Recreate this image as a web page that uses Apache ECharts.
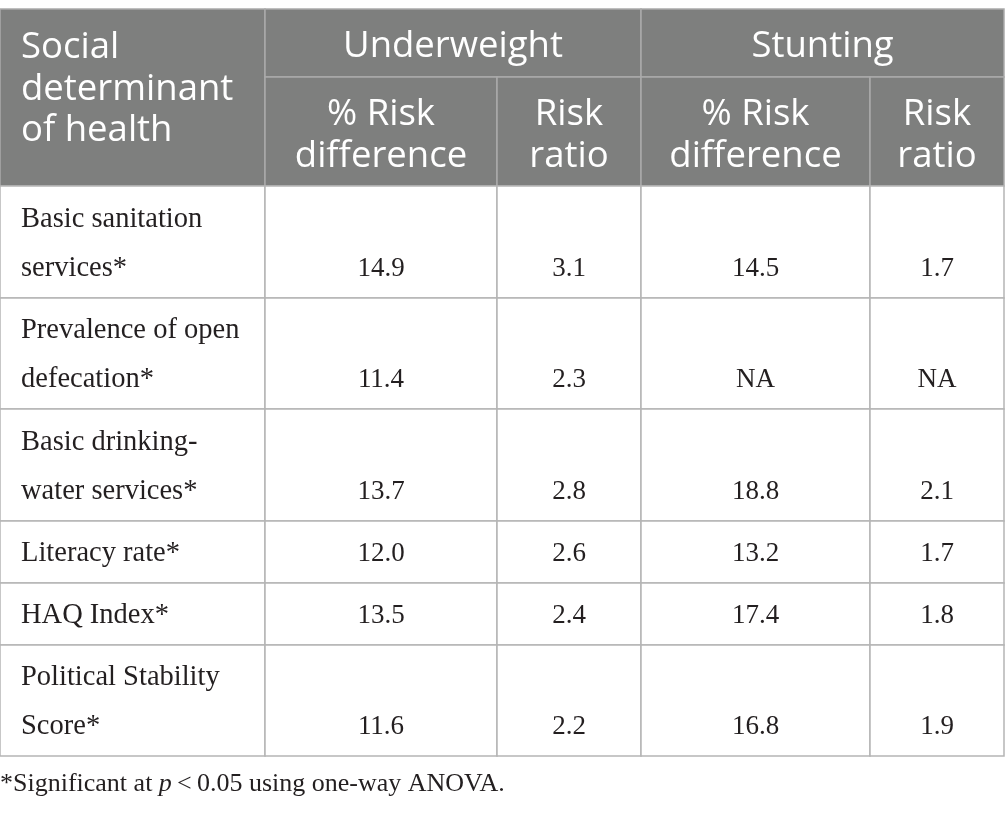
<!DOCTYPE html>
<html>
<head>
<meta charset="utf-8">
<script src="https://cdn.jsdelivr.net/npm/echarts@6/dist/echarts.min.js"></script>
<style>
  html, body { margin: 0; padding: 0; background: #fff; }
  #main { width: 1005px; height: 815px; }
</style>
</head>
<body>
<div id="main"></div>
<script>
// table content
const cornerHeader = 'Social\ndeterminant\nof health';
const groupHeaders = ['Underweight', 'Stunting'];
const subHeaders = ['% Risk\ndifference', 'Risk\nratio', '% Risk\ndifference', 'Risk\nratio'];
const determinants = [
  'Basic sanitation\nservices*',
  'Prevalence of open\ndefecation*',
  'Basic drinking-\nwater services*',
  'Literacy rate*',
  'HAQ Index*',
  'Political Stability\nScore*'
];
const underweightDiff = ['14.9', '11.4', '13.7', '12.0', '13.5', '11.6'];
const underweightRatio = ['3.1', '2.3', '2.8', '2.6', '2.4', '2.2'];
const stuntingDiff = ['14.5', 'NA', '18.8', '13.2', '17.4', '16.8'];
const stuntingRatio = ['1.7', 'NA', '2.1', '1.7', '1.8', '1.9'];
const valueColumns = [underweightDiff, underweightRatio, stuntingDiff, stuntingRatio];

// layout, in pixels of the page
const colEdges = [0, 265, 497, 641, 870, 1004];
const headTop = 9, headMid = 77, headBottom = 186;
const rowEdges = [186, 298, 409, 521, 583, 645, 756];

const headFont = '36.5px "Open Sans"';
const labelFont = '28.5px "Liberation Serif"';
const valueFont = '27px "Liberation Serif"';
const headLine = 41.5;
const bodyLine = 49;

// build cells: value = [x0, y0, x1, y1]
let cells = [];
cells.push({ value: [colEdges[0], headTop, colEdges[1], headBottom], text: cornerHeader, kind: 'corner' });
for (let g = 0; g < groupHeaders.length; g++) {
  cells.push({ value: [colEdges[1 + g * 2], headTop, colEdges[3 + g * 2], headMid], text: groupHeaders[g], kind: 'head' });
}
for (let s = 0; s < subHeaders.length; s++) {
  cells.push({ value: [colEdges[1 + s], headMid, colEdges[2 + s], headBottom], text: subHeaders[s], kind: 'head' });
}
for (let r = 0; r < determinants.length; r++) {
  let nLines = determinants[r].split('\n').length;
  cells.push({ value: [colEdges[0], rowEdges[r], colEdges[1], rowEdges[r + 1]], text: determinants[r], kind: 'label' });
  for (let c = 0; c < valueColumns.length; c++) {
    cells.push({ value: [colEdges[1 + c], rowEdges[r], colEdges[2 + c], rowEdges[r + 1]], text: valueColumns[c][r], kind: 'value', lines: nLines });
  }
}

function renderCell(params, api) {
  const cell = cells[params.dataIndex];
  const p0 = api.coord([api.value(0), api.value(1)]);
  const p1 = api.coord([api.value(2), api.value(3)]);
  const isHead = cell.kind === 'corner' || cell.kind === 'head';
  const w = p1[0] - p0[0], h = p1[1] - p0[1];
  let textStyle;
  if (cell.kind === 'corner') {
    textStyle = { x: p0[0] + 21, y: p0[1] + 18, align: 'left', verticalAlign: 'top', lineHeight: headLine, font: headFont };
  } else if (cell.kind === 'head') {
    textStyle = { x: p0[0] + w / 2, y: p0[1] + h / 2 + 4, align: 'center', verticalAlign: 'middle', lineHeight: headLine, font: headFont };
  } else if (cell.kind === 'label') {
    textStyle = { x: p0[0] + 21, y: p0[1] + h / 2 + 2, align: 'left', verticalAlign: 'middle', lineHeight: bodyLine, font: labelFont };
  } else {
    textStyle = { x: p0[0] + w / 2, y: p0[1] + h / 2 + 2 + (cell.lines - 1) * bodyLine / 2, align: 'center', verticalAlign: 'middle', lineHeight: bodyLine, font: valueFont };
  }
  textStyle.text = cell.text;
  textStyle.fill = isHead ? '#ffffff' : '#231f20';
  return {
    type: 'group',
    children: [
      {
        type: 'rect',
        shape: { x: p0[0], y: p0[1], width: w, height: h },
        style: { fill: isHead ? '#7e7f7e' : '#ffffff', stroke: isHead ? '#aaaaaa' : '#b5b5b5', lineWidth: 1.5 }
      },
      { type: 'text', style: textStyle }
    ]
  };
}

const chart = echarts.init(document.getElementById('main'));
chart.setOption({
  animation: false,
  grid: { left: 0, right: 0, top: 0, bottom: 0 },
  xAxis: { type: 'value', min: 0, max: 1005, show: false },
  yAxis: { type: 'value', min: 0, max: 815, inverse: true, show: false },
  series: [{
    type: 'custom',
    clip: false,
    renderItem: renderCell,
    data: cells
  }],
  graphic: [{
    type: 'text',
    left: 0,
    top: 771,
    style: {
      text: '*Significant at {i|p}\u2009<\u20090.05 using one-way ANOVA.',
      font: '26px "Liberation Serif"',
      fill: '#231f20',
      rich: { i: { fontStyle: 'italic', fontFamily: 'Liberation Serif', fontSize: 26 } }
    }
  }]
});
</script>
</body>
</html>
